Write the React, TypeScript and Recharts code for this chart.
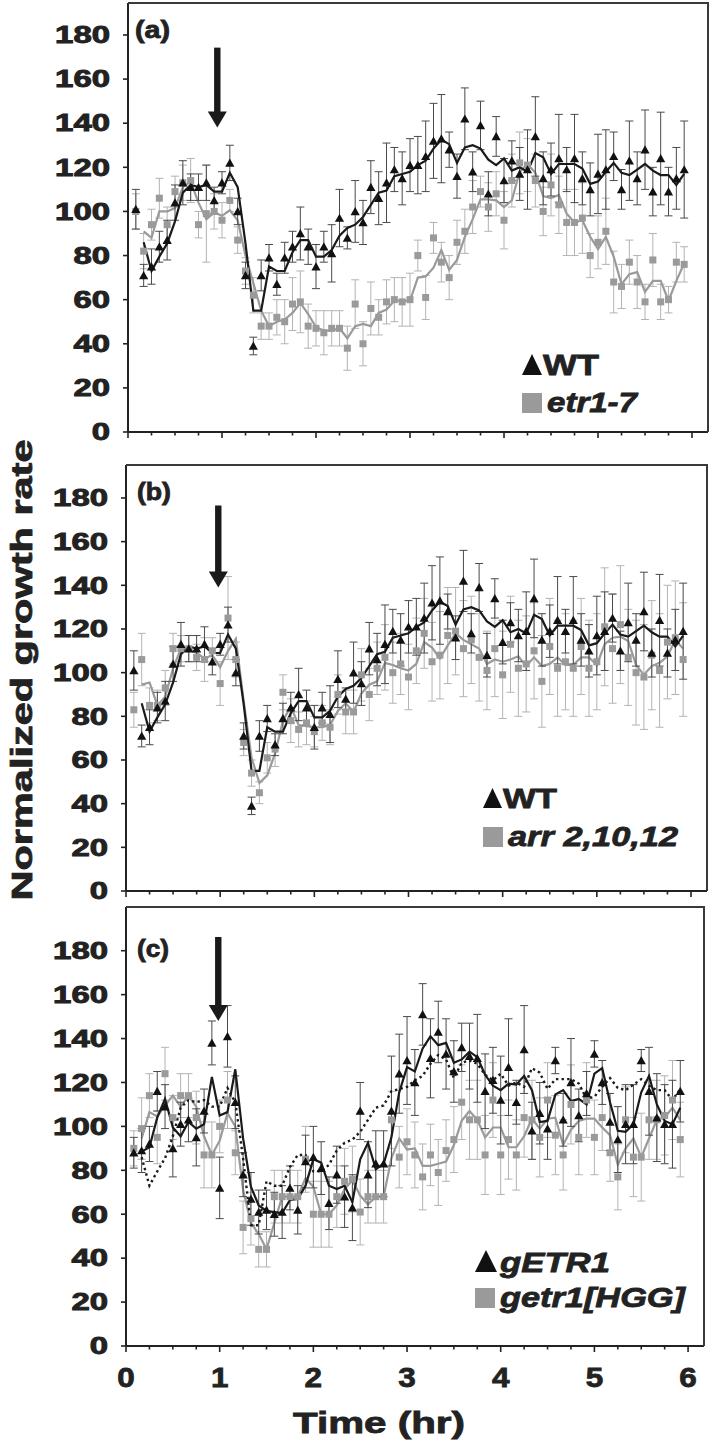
import React from "react";
import { ComposedChart, Line, Scatter, ErrorBar, XAxis, YAxis, ReferenceDot } from "recharts";

// sampling times (min after start)
const MINUTES = [
  5, 10, 15, 20, 25, 30, 35, 40, 45, 50, 55, 60, 65, 70, 75, 80, 85, 90, 95, 100,
  105, 110, 115, 120, 125, 130, 135, 140, 145, 150, 155, 160, 165, 170, 175, 180, 185, 190, 195, 200,
  205, 210, 215, 220, 225, 230, 235, 240, 245, 250, 255, 260, 265, 270, 275, 280, 285, 290, 295, 300,
  305, 310, 315, 320, 325, 330, 335, 340, 345, 350, 355,
];

const WT = [
  101, 71, 75, 84, 87, 104, 113, 111, 111, 113, 105, 113, 122, 100, 71, 39, 71, 79, 67, 79,
  84, 90, 84, 75, 84, 81, 97, 88, 100, 95, 111, 106, 113, 119, 115, 121, 121, 125, 132, 133,
  128, 116, 142, 118, 139, 108, 134, 114, 123, 117, 119, 134, 115, 119, 124, 119, 124, 115, 110, 117,
  119, 125, 110, 123, 115, 128, 109, 124, 109, 115, 119,
];
const WT_ERR = [
  9, 5, 8, 7, 9, 8, 10, 6, 6, 8, 6, 5, 8, 6, 6, 4, 7, 6, 5, 7,
  7, 12, 8, 10, 7, 13, 13, 5, 14, 10, 12, 12, 18, 10, 12, 12, 13, 16, 17, 20,
  8, 10, 14, 9, 11, 10, 9, 10, 9, 12, 18, 18, 12, 12, 20, 10, 20, 12, 12, 18,
  18, 11, 9, 18, 12, 18, 11, 21, 11, 14, 22,
];

const ETR1_7 = [
  100, 82, 94, 106, 94, 109, 113, 114, 94, 99, 100, 96, 105, 87, 73, 62, 48, 48, 52, 50,
  58, 59, 48, 47, 45, 47, 47, 38, 58, 40, 56, 52, 59, 60, 59, 60, 80, 61, 88, 77,
  70, 86, 91, 102, 109, 102, 108, 96, 114, 122, 121, 114, 100, 112, 103, 95, 95, 97, 80, 86,
  91, 68, 66, 77, 68, 59, 78, 59, 60, 77, 76,
];
const ETR1_7_ERR = [
  8, 8, 7, 9, 8, 7, 8, 10, 6, 22, 8, 8, 5, 6, 6, 8, 6, 6, 8, 10,
  12, 14, 10, 8, 10, 8, 8, 10, 11, 10, 12, 8, 10, 10, 11, 12, 7, 10, 7, 9,
  10, 10, 10, 12, 7, 11, 10, 13, 12, 14, 12, 12, 11, 14, 13, 15, 15, 16, 10, 12,
  15, 14, 10, 10, 12, 8, 12, 8, 6, 9, 8,
];

const ARR = [
  83, 106, 85, 85, 93, 111, 111, 111, 107, 106, 110, 95, 125, 106, 68, 54, 45, 61, 65, 91,
  78, 74, 77, 73, 77, 75, 90, 82, 82, 99, 90, 102, 107, 100, 104, 98, 110, 118, 105, 108,
  117, 119, 111, 115, 107, 101, 111, 99, 113, 102, 104, 110, 96, 112, 102, 105, 102, 112, 102, 105,
  121, 111, 122, 107, 100, 98, 108, 101, 114, 116, 106,
];
const ARR_ERR = [
  8, 12, 8, 7, 8, 7, 6, 6, 6, 10, 6, 10, 19, 8, 6, 6, 5, 7, 8, 8,
  10, 8, 10, 7, 8, 8, 9, 10, 10, 12, 12, 12, 15, 14, 14, 15, 15, 16, 18, 20,
  22, 20, 22, 20, 20, 18, 22, 20, 22, 22, 22, 22, 21, 22, 22, 22, 22, 22, 22, 22,
  27, 25, 27, 22, 24, 24, 25, 26, 26, 26, 26,
];

const GETR1 = [
  88, 89, 92, 116, 109, 90, 101, 103, 95, 107, 138, 72, 141, 111, 78, 67, 61, 62, 60, 61,
  72, 62, 84, 86, 81, 65, 78, 68, 63, 107, 78, 83, 83, 107, 124, 130, 120, 151, 131, 143,
  133, 125, 136, 132, 131, 116, 121, 112, 127, 111, 135, 98, 106, 99, 130, 103, 120, 105, 115, 133,
  120, 102, 94, 101, 101, 130, 116, 104, 101, 101, 116,
];
const GETR1_ERR = [
  7, 10, 8, 9, 10, 13, 10, 10, 13, 10, 10, 14, 14, 12, 10, 12, 10, 9, 10, 12,
  10, 11, 12, 14, 12, 12, 13, 14, 15, 13, 15, 15, 15, 25, 18, 20, 15, 14, 18, 14,
  16, 14, 11, 15, 20, 17, 15, 20, 22, 10, 20, 13, 14, 14, 6, 12, 20, 12, 10, 6,
  10, 13, 15, 18, 18, 5, 20, 20, 18, 20, 14,
];

const GETR1_HGG = [
  90, 99, 114, 95, 124, 104, 114, 114, 104, 87, 87, 100, 112, 88, 54, 58, 44, 44, 68, 68,
  68, 68, 85, 60, 60, 60, 68, 75, 76, 61, 68, 68, 68, 103, 86, 93, 87, 77, 87, 79,
  89, 94, 111, 103, 103, 87, 112, 87, 94, 87, 104, 103, 95, 112, 96, 87, 110, 95, 112, 95,
  104, 88, 77, 103, 86, 86, 103, 103, 105, 112, 94,
];
const GETR1_HGG_ERR = [
  8, 14, 10, 12, 12, 10, 10, 10, 12, 15, 15, 12, 13, 10, 12, 12, 8, 8, 12, 12,
  12, 12, 15, 15, 15, 15, 14, 15, 15, 15, 12, 12, 12, 13, 14, 15, 15, 15, 14, 15,
  14, 15, 17, 18, 18, 18, 17, 18, 18, 16, 18, 18, 18, 17, 18, 16, 18, 17, 17, 17,
  15, 13, 15, 15, 18, 20, 18, 18, 18, 18, 17,
];

const X_TICKS = [0, 0.25, 0.5, 0.75, 1, 1.25, 1.5, 1.75, 2, 2.25, 2.5, 2.75, 3, 3.25, 3.5, 3.75, 4, 4.25, 4.5, 4.75, 5, 5.25, 5.5, 5.75, 6];
const Y_TICKS = [0, 20, 40, 60, 80, 100, 120, 140, 160, 180];

const FONT = '"Liberation Sans", Arial, Helvetica, sans-serif';
const INK = "#222";
const GRAY = "#9a9a9a";

// Excel-style 2-period moving-average trendline (starts at the 2nd point)
const trend = (v: number[]) => v.map((y, i) => (i === 0 ? null : (y + v[i - 1]) / 2));

function buildRows(black: number[], blackErr: number[], gray: number[], grayErr: number[]) {
  const bt = trend(black);
  const gt = trend(gray);
  const wt = trend(WT);
  return MINUTES.map((m, i) => ({
    t: m / 60,
    black: black[i], blackErr: blackErr[i], blackTrend: bt[i],
    gray: gray[i], grayErr: grayErr[i], grayTrend: gt[i],
    wtTrend: wt[i],
  }));
}

const rowsA = buildRows(WT, WT_ERR, ETR1_7, ETR1_7_ERR);
const rowsB = buildRows(WT, WT_ERR, ARR, ARR_ERR);
const rowsC = buildRows(GETR1, GETR1_ERR, GETR1_HGG, GETR1_HGG_ERR);

const YTick = (props: any) => {
  const { x, y, payload } = props;
  const s = String(payload.value);
  return (
    <text x={x} y={y} dy="0.36em" textAnchor="end" fontFamily={FONT} fontWeight="bold" fontSize={23}
      fill={INK} stroke={INK} strokeWidth={0.9} textLength={s.length * 18.3}
      lengthAdjust="spacingAndGlyphs">{s}</text>
  );
};

const makeXTick = (labels: boolean) => (props: any) => {
  const { x, y, payload } = props;
  const major = Number.isInteger(payload.value);
  return (
    <g>
      <line x1={x} x2={x} y1={y - 1} y2={y + (major ? 6 : 3.5)} stroke={INK} strokeWidth={1.6} />
      {labels && major && (
        <text x={x} y={y + 41} textAnchor="middle" fontFamily={FONT} fontWeight="bold" fontSize={28}
          fill={INK} stroke={INK} strokeWidth={0.8} textLength={17.5}
          lengthAdjust="spacingAndGlyphs">{payload.value}</text>
      )}
    </g>
  );
};

const Triangle = (p: any) => (
  <polygon points={`${p.cx - 4.6},${p.cy + 3.8} ${p.cx + 4.6},${p.cy + 3.8} ${p.cx},${p.cy - 4.4}`} fill="#111" />
);
const Square = (p: any) => <rect x={p.cx - 3.5} y={p.cy - 3.5} width={7} height={7} fill={GRAY} />;

const Arrow = ({ cx, cy, len }: { cx: number; cy: number; len: number }) => (
  <g fill="#1a1a1a">
    <rect x={cx - 3.2} y={cy - len} width={6.4} height={len - 15} />
    <polygon points={`${cx - 9.5},${cy - 16} ${cx + 9.5},${cy - 16} ${cx},${cy}`} />
  </g>
);

type PanelProps = {
  rows: any[];
  top: number;
  height: number;
  margin: { top: number; right: number; left: number; bottom: number };
  yAxisWidth: number;
  xAxisHeight: number;
  yMax: number;
  labels: boolean;
  dotted: boolean;
  arrowX: number;
  arrowTip: number;
  arrowLen: number;
};

function Panel(p: PanelProps) {
  return (
    <div style={{ position: "absolute", left: 0, top: p.top }}>
      <ComposedChart width={709} height={p.height} data={p.rows} margin={p.margin}>
        <XAxis dataKey="t" type="number" domain={[0, 6.17]} allowDataOverflow ticks={X_TICKS}
          interval={0} tickSize={0} tickMargin={0} tickLine={false} height={p.xAxisHeight}
          axisLine={{ stroke: INK, strokeWidth: 2 }} tick={makeXTick(p.labels)} />
        <YAxis type="number" domain={[0, p.yMax]} allowDataOverflow ticks={Y_TICKS} interval={0}
          width={p.yAxisWidth} tickSize={5} tickMargin={13} tickLine={{ stroke: INK, strokeWidth: 1.6 }}
          axisLine={{ stroke: INK, strokeWidth: 2 }} tick={<YTick />} />
        <Scatter dataKey="gray" shape={<Square />} isAnimationActive={false}>
          <ErrorBar dataKey="grayErr" direction="y" width={4} stroke="#b3b3b3" strokeWidth={1} />
        </Scatter>
        <Line dataKey="grayTrend" type="linear" dot={false} activeDot={false} stroke={GRAY}
          strokeWidth={2.2} isAnimationActive={false} />
        <Scatter dataKey="black" shape={<Triangle />} isAnimationActive={false}>
          <ErrorBar dataKey="blackErr" direction="y" width={4} stroke="#4a4a4a" strokeWidth={1} />
        </Scatter>
        {p.dotted && (
          <Line dataKey="wtTrend" type="linear" dot={false} activeDot={false} stroke="#1a1a1a"
            strokeWidth={2.4} strokeDasharray="2.4 3.2" isAnimationActive={false} />
        )}
        <Line dataKey="blackTrend" type="linear" dot={false} activeDot={false} stroke="#1a1a1a"
          strokeWidth={2.2} isAnimationActive={false} />
        <ReferenceDot x={p.arrowX} y={p.arrowTip} r={0}
          shape={(s: any) => <Arrow cx={s.cx} cy={s.cy} len={p.arrowLen} />} />
      </ComposedChart>
    </div>
  );
}

const txt = { fontFamily: FONT, fontWeight: "bold" as const, fill: INK, stroke: INK, strokeWidth: 0.8 };

export default function App() {
  return (
    <div style={{ position: "absolute", left: 0, top: 0, width: 709, height: 1450, background: "#fff", overflow: "hidden" }}>
      <Panel rows={rowsA} top={0} height={446} margin={{ top: 3, right: 1, left: 0, bottom: 0 }}
        yAxisWidth={128} xAxisHeight={14} yMax={194.5} labels={false} dotted={false}
        arrowX={0.95} arrowTip={138} arrowLen={80} />
      <Panel rows={rowsB} top={460} height={445} margin={{ top: 5, right: 2, left: 0, bottom: 0 }}
        yAxisWidth={126} xAxisHeight={14} yMax={195.1} labels={false} dotted={false}
        arrowX={0.98} arrowTip={139} arrowLen={82} />
      <Panel rows={rowsC} top={900} height={496} margin={{ top: 7, right: 5, left: 0, bottom: 0 }}
        yAxisWidth={126} xAxisHeight={50} yMax={199.9} labels={true} dotted={true}
        arrowX={0.985} arrowTip={148} arrowLen={84} />

      <svg width={709} height={1450} style={{ position: "absolute", left: 0, top: 0, pointerEvents: "none" }}>
        {/* box top / right edges */}
        <g stroke="#3a3a3a" strokeWidth={2} fill="none">
          <polyline points="128,3 708,3 708,432" />
          <polyline points="126,465 707,465 707,891" />
          <polyline points="126,907 704,907 704,1346" />
        </g>

        {/* panel letters */}
        <text x={135} y={38} fontSize={24} textLength={35} lengthAdjust="spacingAndGlyphs" {...txt}>(a)</text>
        <text x={137} y={500} fontSize={24} textLength={34} lengthAdjust="spacingAndGlyphs" {...txt}>(b)</text>
        <text x={137} y={957} fontSize={24} textLength={32} lengthAdjust="spacingAndGlyphs" {...txt}>(c)</text>

        {/* legend (a) */}
        <polygon points="522,375 542,375 532,354" fill="#111" />
        <text x={543} y={375} fontSize={30} textLength={56} lengthAdjust="spacingAndGlyphs" {...txt}>WT</text>
        <rect x={522} y={393} width={20} height={20} fill={GRAY} />
        <text x={547} y={412} fontSize={28} fontStyle="italic" textLength={90} lengthAdjust="spacingAndGlyphs" {...txt}>etr1-7</text>

        {/* legend (b) */}
        <polygon points="483,808 502,808 492.5,788" fill="#111" />
        <text x={503} y={808} fontSize={28} textLength={54} lengthAdjust="spacingAndGlyphs" {...txt}>WT</text>
        <rect x={483} y={827} width={20} height={20} fill={GRAY} />
        <text x={508} y={846} fontSize={28} fontStyle="italic" textLength={170} lengthAdjust="spacingAndGlyphs" {...txt}>arr 2,10,12</text>

        {/* legend (c) */}
        <polygon points="475,1272 497,1272 486,1250" fill="#111" />
        <text x={500} y={1272} fontSize={28} fontStyle="italic" textLength={110} lengthAdjust="spacingAndGlyphs" {...txt}>gETR1</text>
        <rect x={475} y={1288} width={20} height={20} fill={GRAY} />
        <text x={500} y={1307} fontSize={28} fontStyle="italic" textLength={185} lengthAdjust="spacingAndGlyphs" {...txt}>getr1[HGG]</text>

        {/* axis titles */}
        <text transform="translate(32,670) rotate(-90)" textAnchor="middle" fontSize={30}
          textLength={461} lengthAdjust="spacingAndGlyphs" {...txt}>Normalized growth rate</text>
        <text x={379} y={1433} textAnchor="middle" fontSize={30} textLength={172}
          lengthAdjust="spacingAndGlyphs" {...txt}>Time (hr)</text>
      </svg>
    </div>
  );
}
